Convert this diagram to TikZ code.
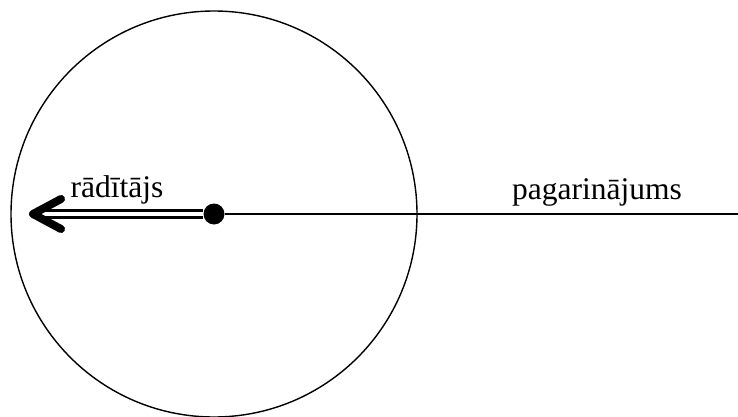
\documentclass[tikz,border=0pt]{standalone}
\usepackage{fontspec}
\setmainfont{Liberation Serif}
\usepackage{tikz}
\usetikzlibrary{positioning}

\begin{document}
\begin{tikzpicture}[
    x=1pt, y=-1pt,
    ring/.style={draw, line width=1.4pt},
    dotnode/.style={circle, fill, inner sep=0pt, minimum size=21pt},
    ray/.style={line width=1.8pt},
    pointer/.style={double, line width=3.2pt, double distance=3.5pt},
    barb/.style={line width=8pt, line cap=round, line join=round},
    lbl/.style={anchor=base, inner sep=0pt, font=\fontsize{31.5}{36}\selectfont}
]
\useasboundingbox (0,0) rectangle (738,417);
\draw[ring] (214,214) circle (203);
\node[dotnode] (ctr) at (214,214) {};
\coordinate (far) at (738,214);
\coordinate (tip) at (33,214);
\draw[ray] (ctr) -- (far);
\draw[pointer] (ctr.west) -- ([xshift=4pt]tip);
\draw[barb] ([xshift=28pt,yshift=15pt]tip) -- (tip) -- ([xshift=28pt,yshift=-15pt]tip);
\node[lbl] (ptrlbl) at (117,197) {rādītājs};
\node[lbl] (extlbl) at (597,199) {pagarinājums};
\end{tikzpicture}
\end{document}
